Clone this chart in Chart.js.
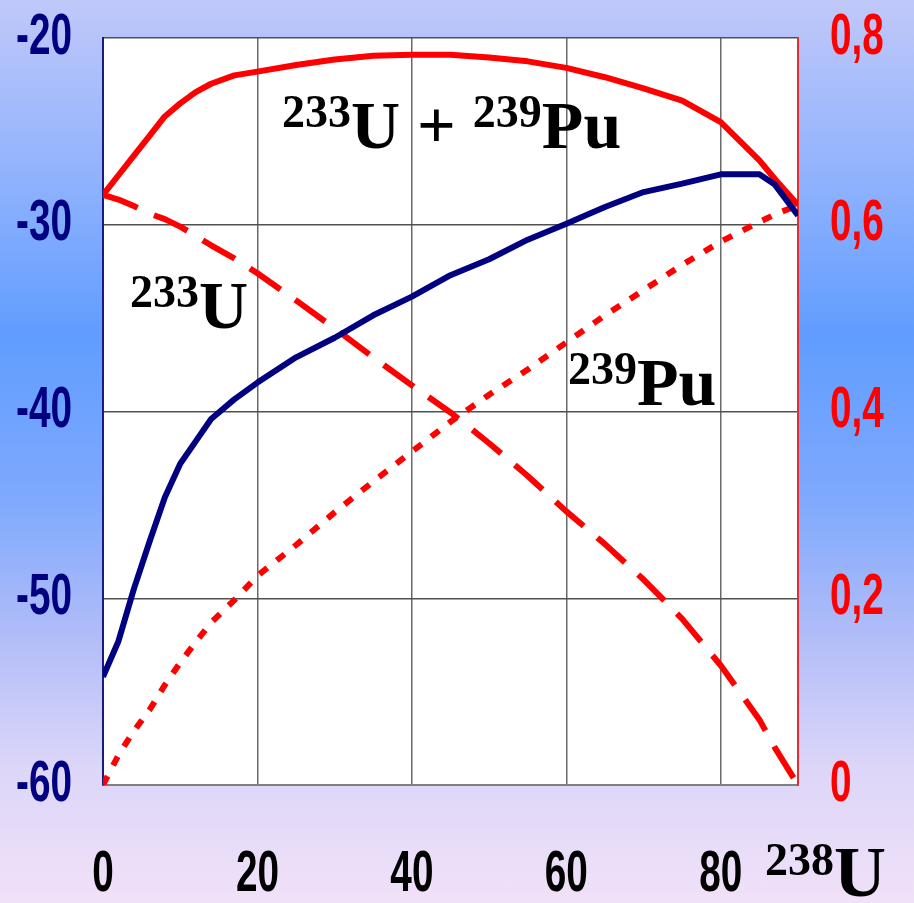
<!DOCTYPE html>
<html>
<head>
<meta charset="utf-8">
<script src="https://cdn.jsdelivr.net/npm/chart.js@4.4.1/dist/chart.umd.min.js"></script>
<style>
  html, body { margin: 0; padding: 0; }
  body {
    width: 914px;
    height: 903px;
    overflow: hidden;
    background: linear-gradient(to bottom, #c0c8f9 0%, #8fb2fd 20%, #609dff 37%, #7ea9fd 55%, #b0bcf8 70%, #dcd6f8 85%, #f1e1f8 100%);
  }
  #wrap { position: relative; width: 914px; height: 903px; }
  .lbl {
    position: absolute;
    font: bold 68px "Liberation Serif", "Times New Roman", serif;
    line-height: 1;
    color: #000;
    white-space: nowrap;
  }
  .lbl sup {
    font-size: 46px;
    vertical-align: baseline;
    position: relative;
    top: -21px;
  }
</style>
</head>
<body>
<div id="wrap">
  <canvas id="fuelChart" width="914" height="903"></canvas>
  <div class="lbl" style="left:282px; top:91px;"><sup>233</sup>U + <sup>239</sup>Pu</div>
  <div class="lbl" style="left:130px; top:271px;"><sup>233</sup>U</div>
  <div class="lbl" style="left:568px; top:348px;"><sup>239</sup>Pu</div>
  <div class="lbl" style="left:765px; top:836px;"><sup>238</sup><span style="font-size:72px">U</span></div>
</div>

<script>
// share of 238U (x axis)
const share238 = [0, 2, 4, 6, 8, 10, 12, 14, 17, 20, 25, 30, 35, 40, 45, 50, 55, 60, 65, 70, 75, 80, 85, 87, 90];

// blue curve, left axis
const blueCurve = [-54.2, -52.3, -49.5, -47.0, -44.6, -42.8, -41.6, -40.4, -39.35, -38.45, -37.1, -36.05, -34.85, -33.85,
  -32.7, -31.85, -30.8, -29.95, -29.05, -28.25, -27.8, -27.3, -27.3, -27.85, -29.5];

// red curves, right axis
const sumU233Pu239 = [0.632, 0.653, 0.674, 0.695, 0.716, 0.730, 0.742, 0.751, 0.760, 0.764, 0.771, 0.777, 0.781, 0.782,
  0.782, 0.779, 0.775, 0.768, 0.758, 0.746, 0.733, 0.710, 0.669, 0.649, 0.621];
const u233 = [0.632, 0.627, 0.620, 0.612, 0.606, 0.598, 0.588, 0.578, 0.564, 0.548, 0.519, 0.489, 0.458, 0.428,
  0.399, 0.366, 0.331, 0.293, 0.258, 0.220, 0.178, 0.128, 0.070, 0.040, 0.0];
const pu239 = [0, 0.032, 0.058, 0.080, 0.107, 0.131, 0.153, 0.174, 0.198, 0.224, 0.257, 0.292, 0.325, 0.357,
  0.389, 0.418, 0.445, 0.474, 0.503, 0.530, 0.557, 0.582, 0.603, 0.611, 0.621];

const leftTicks = [-60, -50, -40, -30, -20];
const rightTicks = [0, 0.2, 0.4, 0.6, 0.8];

function pts(ys) {
  return share238.map((x, i) => ({ x: x, y: ys[i] }));
}

const tickFont = {
  family: "'Liberation Sans', Arial, sans-serif",
  size: 57,
  weight: "bold",
  lineHeight: 1,
};

// white plot area
const plotBg = {
  id: "plotBg",
  beforeDraw(chart) {
    const a = chart.chartArea;
    const c = chart.ctx;
    c.save();
    c.fillStyle = "#ffffff";
    c.fillRect(a.left, a.top, a.right - a.left, a.bottom - a.top);
    c.restore();
  },
};

// tick labels in the picture are a narrow bold face; squeeze them horizontally
const narrowTicks = {
  id: "narrowTicks",
  afterLayout(chart) {
    Object.values(chart.scales).forEach((scale) => {
      if (scale._narrow) return;
      scale._narrow = true;
      scale.drawLabels = function (chartArea) {
        const c = this.ctx;
        this.getLabelItems(chartArea).forEach((item) => {
          const o = item.options;
          c.save();
          c.font = item.font.string;
          c.fillStyle = o.color;
          c.textAlign = o.textAlign;
          c.textBaseline = o.textBaseline;
          c.translate(o.translation[0], o.translation[1]);
          c.scale(0.68, 1);
          c.fillText(item.label, 0, item.textOffset);
          c.restore();
        });
      };
    });
  },
};

function noPad(scale) {
  scale.paddingTop = 0;
  scale.paddingBottom = 0;
  scale.paddingLeft = 0;
  scale.paddingRight = 0;
}

document.addEventListener("DOMContentLoaded", function () {
  const ctx = document.getElementById("fuelChart");

  const data = {
    datasets: [
      {
        data: pts(blueCurve),
        yAxisID: "y",
        borderColor: "#000080",
        borderWidth: 6,
        order: 1,
      },
      {
        data: pts(sumU233Pu239),
        yAxisID: "y2",
        borderColor: "#ff0000",
        borderWidth: 6,
        order: 2,
      },
      {
        data: pts(u233),
        yAxisID: "y2",
        borderColor: "#ff0000",
        borderWidth: 6,
        borderDash: [37, 18],
        order: 3,
      },
      {
        data: pts(pu239),
        yAxisID: "y2",
        borderColor: "#ff0000",
        borderWidth: 6,
        borderDash: [10, 12],
        order: 4,
      },
    ],
  };

  const config = {
    type: "line",
    data: data,
    plugins: [plotBg, narrowTicks],
    options: {
      responsive: false,
      animation: false,
      devicePixelRatio: 1,
      elements: {
        point: { radius: 0 },
        line: { tension: 0, borderCapStyle: "butt", borderJoinStyle: "round" },
      },
      layout: { padding: { top: 38, left: 0, right: 0, bottom: 0 } },
      scales: {
        x: {
          type: "linear",
          min: 0,
          max: 90,
          ticks: {
            stepSize: 20,
            includeBounds: false,
            color: "#000000",
            font: tickFont,
            padding: 62,
            maxRotation: 0,
          },
          grid: { color: "#6a6a6a", lineWidth: 1.5, drawTicks: false },
          border: { color: "#808080", width: 2 },
          afterFit(scale) { scale.height = 118; noPad(scale); },
        },
        y: {
          position: "left",
          min: leftTicks[0],
          max: leftTicks[leftTicks.length - 1],
          ticks: {
            stepSize: 10,
            color: "#000080",
            font: tickFont,
            padding: 31,
          },
          grid: { color: "#505050", lineWidth: 1.5, drawTicks: false },
          border: { color: "#1a1a80", width: 2 },
          afterFit(scale) { scale.width = 103; noPad(scale); },
        },
        y2: {
          position: "right",
          min: rightTicks[0],
          max: rightTicks[rightTicks.length - 1],
          ticks: {
            stepSize: 0.2,
            color: "#ff0000",
            font: tickFont,
            padding: 32,
            callback: (v) => (v === 0 ? "0" : v.toFixed(1).replace(".", ",")),
          },
          grid: { drawOnChartArea: false, drawTicks: false },
          border: { color: "#e03030", width: 2 },
          afterFit(scale) { scale.width = 116; noPad(scale); },
        },
      },
      plugins: {
        legend: { display: false },
        tooltip: { enabled: false },
        title: { display: false },
      },
    },
  };

  const fuelChart = new Chart(ctx, config);
});
</script>
</body>
</html>
